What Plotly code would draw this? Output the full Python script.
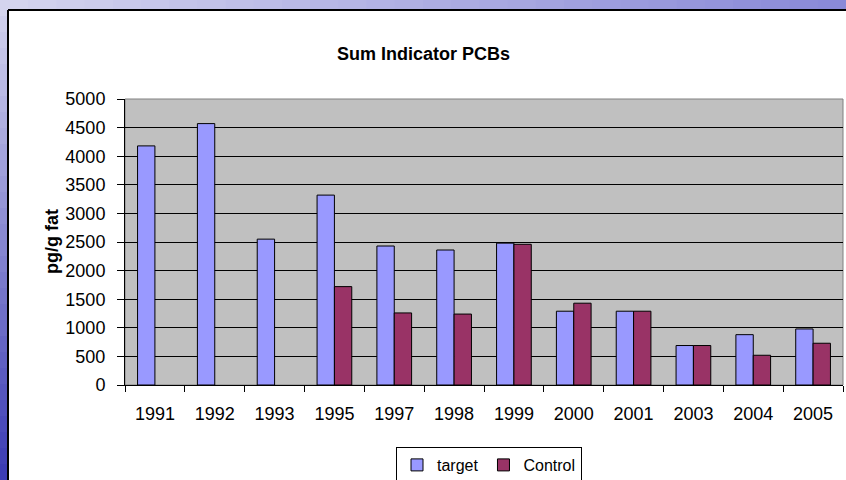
import plotly.graph_objects as go

years = ['1991', '1992', '1993', '1995', '1997', '1998', '1999', '2000', '2001', '2003', '2004', '2005']
target = [4180, 4570, 2550, 3320, 2430, 2360, 2480, 1290, 1290, 690, 880, 980]
control = [None, None, None, 1720, 1260, 1240, 2460, 1430, 1290, 690, 520, 730]

W, H = 846, 480
L, R, T, B = 125, 843, 99, 385  # plot area in pixels


def px(x):
    return (x - L) / (R - L)


def py(y):
    return (B - y) / (B - T)


font = dict(family='Liberation Sans, Arial, sans-serif', size=18, color='black')

fig = go.Figure()
fig.add_trace(go.Bar(x=years, y=target, name='target',
                     marker=dict(color='#9999FF', line=dict(color='black', width=1))))
fig.add_trace(go.Bar(x=years, y=control, name='Control',
                     marker=dict(color='#993366', line=dict(color='black', width=1))))

# slide background: blue strips on top and left with a simple gradient
shapes = []
n = 30
for i in range(n):
    f = i / (n - 1)
    r = int(212 - 74 * f); g = int(212 - 74 * f); b = int(238 - 22 * f)
    shapes.append(dict(type='rect', xref='paper', yref='paper', layer='below',
                       x0=px(W * i / n), x1=px(W * (i + 1) / n + 1), y0=py(0), y1=py(10),
                       fillcolor=f'rgb({r},{g},{b})', line=dict(width=0)))
    r = int(212 - 152 * f); g = int(212 - 152 * f); b = int(238 - 58 * f)
    shapes.append(dict(type='rect', xref='paper', yref='paper', layer='below',
                       x0=px(0), x1=px(8), y0=py(H * i / n), y1=py(H * (i + 1) / n + 1),
                       fillcolor=f'rgb({r},{g},{b})', line=dict(width=0)))
shapes.append(dict(type='line', xref='paper', yref='paper', x0=px(8), x1=px(8),
                   y0=py(10), y1=py(H), line=dict(color='black', width=2)))
shapes.append(dict(type='line', xref='paper', yref='paper', x0=px(8), x1=px(W),
                   y0=py(10), y1=py(10), line=dict(color='black', width=2)))
# plot area frame
shapes.append(dict(type='rect', xref='paper', yref='paper', x0=0, x1=1, y0=0, y1=1,
                   line=dict(color='#808080', width=1), layer='below'))

fig.update_layout(
    width=W, height=H,
    margin=dict(l=L, r=W - R, t=T, b=H - B, autoexpand=False),
    paper_bgcolor='white', plot_bgcolor='#C0C0C0',
    font=font,
    barmode='group', bargap=0.42, bargroupgap=0,
    shapes=shapes,
    annotations=[
        dict(text='<b>Sum Indicator PCBs</b>', xref='paper', yref='paper',
             x=px(423), y=py(42), showarrow=False, font=dict(size=18)),
        dict(text='<b>pg/g fat</b>', xref='paper', yref='paper', textangle=-90,
             x=px(40), y=py(242), showarrow=False, font=dict(size=18)),
    ],
    legend=dict(orientation='h', x=px(396), y=py(447), xanchor='left', yanchor='top',
                bordercolor='black', borderwidth=1, bgcolor='white',
                font=dict(size=16), itemwidth=30, tracegroupgap=0),
    xaxis=dict(type='category', tickson='boundaries', ticks='outside', ticklen=6,
               tickcolor='black', showline=True, linecolor='black', showgrid=False,
               ticklabelstandoff=12),
    yaxis=dict(range=[0, 5000], dtick=500, ticks='outside', ticklen=7, tickcolor='black',
               showline=True, linecolor='black', gridcolor='black', gridwidth=1,
               zeroline=False, ticklabelstandoff=8),
)

# page body has an 8px default margin; drop it so the figure fills the window
fig.write_html('out.html', config={'displayModeBar': False},
               post_script="document.body.style.margin='0';")
